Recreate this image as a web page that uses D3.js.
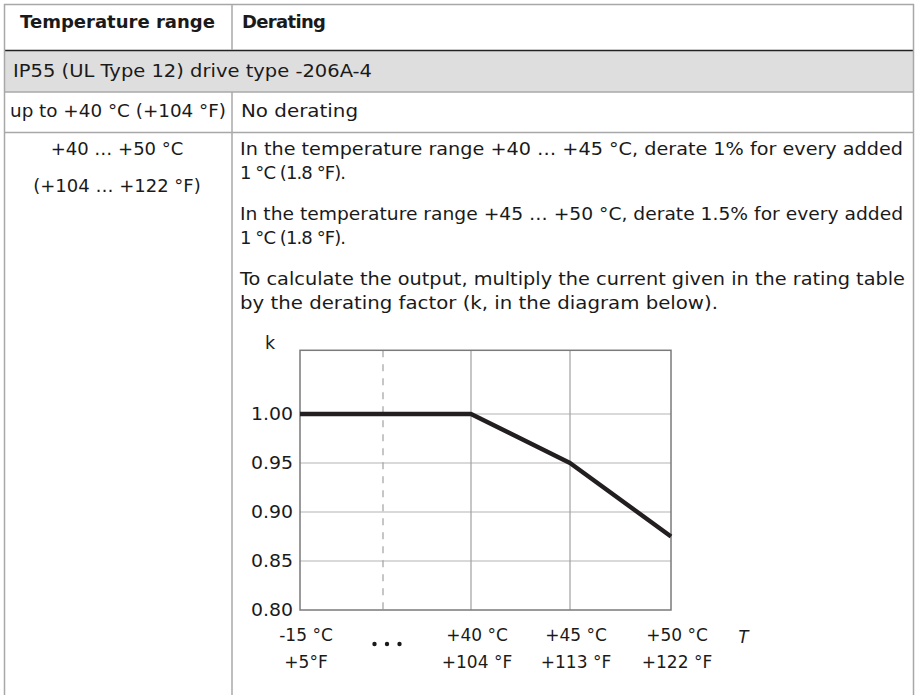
<!DOCTYPE html>
<html><head><meta charset="utf-8">
<script src="https://cdn.jsdelivr.net/npm/d3@7"></script>
<style>body{margin:0;background:#fff} svg{display:block}</style>
</head><body><svg id="c" width="916" height="695"></svg>
<script>
// ---- data ----
const temps = [-15, 40, 45, 50];
const kValues = [1.00, 1.00, 0.95, 0.875];
const yTicks = [0.80, 0.85, 0.90, 0.95, 1.00];
const celsiusLabels = ["-15 °C", "+40 °C", "+45 °C", "+50 °C"];
const fahrenheitLabels = ["+5°F", "+104 °F", "+113 °F", "+122 °F"];
const gridTemps = [40, 45];
const breakTemp = 12.5;
const headerCells = ["Temperature range", "Derating"];
const groupTitle = "IP55 (UL Type 12) drive type -206A-4";
const row1 = ["up to +40 °C (+104 °F)", "No derating"];
const row2Left = ["+40 … +50 °C", "(+104 … +122 °F)"];
const row2Paragraphs = [
  ["In the temperature range +40 … +45 °C, derate 1% for every added", "1 °C (1.8 °F)."],
  ["In the temperature range +45 … +50 °C, derate 1.5% for every added", "1 °C (1.8 °F)."],
  ["To calculate the output, multiply the current given in the rating table", "by the derating factor (k, in the diagram below)."]
];

// ---- layout (text widths matched to the page) ----
const paraWidths = [[663, 106], [663, 106], [665, 478]];
const svg = d3.select("#c");
const TF = "'DejaVu Sans', Verdana, sans-serif";
const CF = "'DejaVu Sans', Verdana, sans-serif";
const border = "#a8a8a8";
const ink = "#1a1a1a";

// ---- table ----
const colX = 232, L = 4, R = 914;
svg.append("rect").attr("x", L).attr("y", 51).attr("width", R - L).attr("height", 41).attr("fill", "#dedede");
const hl = (yy, c, w, xa = L, xb = R) => svg.append("line").attr("x1", xa).attr("x2", xb).attr("y1", yy).attr("y2", yy).attr("stroke", c).attr("stroke-width", w);
hl(4.5, border, 1.5);
hl(50.5, "#222", 1.5);
hl(92, border, 1.5);
hl(132.5, border, 1.5);
const vl = (xx, ya, yb) => svg.append("line").attr("x1", xx).attr("x2", xx).attr("y1", ya).attr("y2", yb).attr("stroke", border).attr("stroke-width", 1.5);
vl(L + 0.5, 4, 695); vl(R - 0.5, 4, 695);
vl(colX, 4, 50); vl(colX, 92, 695);

const txt = (xx, yy, s, opt = {}) => {
  const t = svg.append("text").attr("x", xx).attr("y", yy).text(s)
    .attr("font-family", opt.font || TF).attr("font-size", opt.size || 18)
    .attr("font-weight", opt.bold ? 700 : 400).attr("fill", opt.fill || ink)
    .attr("text-anchor", opt.anchor || "start").attr("font-style", opt.italic ? "italic" : "normal");
  if (opt.width) {
    const natural = t.node().getComputedTextLength();
    t.attr("textLength", opt.width)
     .attr("lengthAdjust", opt.width > natural ? "spacingAndGlyphs" : "spacing");
  }
  return t;
};

txt(20, 28, headerCells[0], {bold: true, width: 195});
txt(242, 28, headerCells[1], {bold: true, width: 84});
txt(13, 77, groupTitle, {width: 359});
txt(10, 117, row1[0], {width: 216});
txt(241, 117, row1[1], {width: 117});
row2Left.forEach((s, i) => txt(117, 155 + i * 37, s, {anchor: "middle"}));
row2Paragraphs.forEach((p, i) => p.forEach((s, j) =>
  txt(240, 155 + i * 65 + j * 24, s, {width: paraWidths[i][j]})));

// ---- chart ----
const x = d3.scaleLinear().domain([-15, breakTemp, 40, 45, 50]).range([300, 383, 471, 570, 671]);
const y = d3.scaleLinear().domain([0.80, 1.00]).range([610, 414]);
const plotTop = y(1.065);
const px0 = x(temps[0]), px1 = x(temps[temps.length - 1]);

const g = svg.append("g");
// horizontal grid
g.selectAll(".hg").data(yTicks.slice(1)).join("line")
  .attr("x1", px0).attr("x2", px1).attr("y1", d => y(d)).attr("y2", d => y(d))
  .attr("stroke", "#b4b4b4").attr("stroke-width", 1.2);
// vertical grid
g.selectAll(".vg").data(gridTemps).join("line")
  .attr("x1", d => x(d)).attr("x2", d => x(d)).attr("y1", plotTop).attr("y2", y(0.80))
  .attr("stroke", "#a0a0a0").attr("stroke-width", 1.2);
// break dashed line
g.append("line").attr("x1", x(breakTemp)).attr("x2", x(breakTemp)).attr("y1", plotTop).attr("y2", y(0.80))
  .attr("stroke", "#a0a0a0").attr("stroke-width", 1.2).attr("stroke-dasharray", "7,7");
// frame
g.append("rect").attr("x", px0).attr("y", plotTop).attr("width", px1 - px0).attr("height", y(0.80) - plotTop)
  .attr("fill", "none").attr("stroke", "#7a7a7a").attr("stroke-width", 1.5);

// y tick labels
g.selectAll(".yl").data(yTicks).join("text")
  .attr("x", px0 - 7).attr("y", d => y(d) + 6).text(d => d.toFixed(2))
  .attr("text-anchor", "end").attr("font-family", CF).attr("font-size", 17.5).attr("fill", ink)
  .attr("textLength", 42).attr("lengthAdjust", "spacingAndGlyphs");
txt(270, 349, "k", {font: CF, size: 17.5, anchor: "middle"});

// x labels
g.selectAll(".xc").data(temps).join("text")
  .attr("x", d => x(d) + 6).attr("y", 641).text((d, i) => celsiusLabels[i])
  .attr("text-anchor", "middle").attr("font-family", CF).attr("font-size", 17).attr("fill", ink);
g.selectAll(".xf").data(temps).join("text")
  .attr("x", d => x(d) + 6).attr("y", 668).text((d, i) => fahrenheitLabels[i])
  .attr("text-anchor", "middle").attr("font-family", CF).attr("font-size", 17).attr("fill", ink);
// ellipsis dots at break
g.selectAll(".dot").data([-1, 0, 1]).join("circle")
  .attr("cx", d => x(breakTemp) + 4 + d * 12.5).attr("cy", 644).attr("r", 2.2).attr("fill", ink);
txt(743, 643, "T", {font: "'Liberation Sans', Arial, sans-serif", size: 18, italic: true, anchor: "middle"});

// data line
const line = d3.line().x((d, i) => x(temps[i])).y(d => y(d));
g.append("path").datum(kValues).attr("d", line)
  .attr("fill", "none").attr("stroke", "#231f20").attr("stroke-width", 4.4).attr("stroke-linejoin", "round");
</script></body></html>
